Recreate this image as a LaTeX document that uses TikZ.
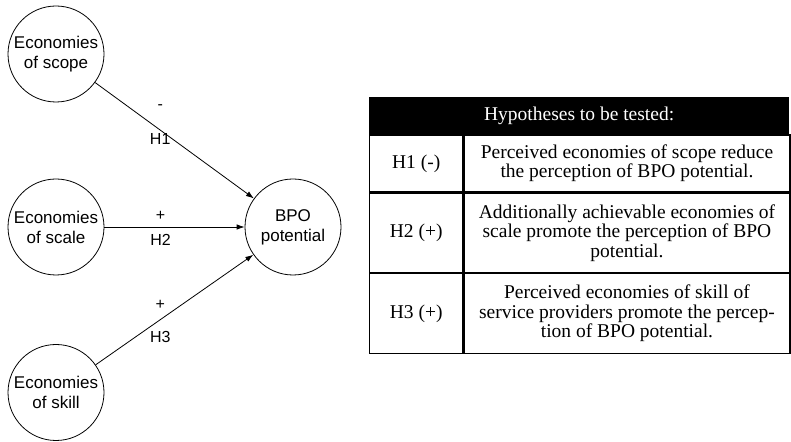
\documentclass[tikz,border=0pt]{standalone}
\usepackage{fontspec}
\setmainfont{Liberation Serif}
\setsansfont{Liberation Sans}
\usepackage{tikz}
\usetikzlibrary{arrows.meta, positioning}
\tikzset{
  construct/.style={circle, draw, line width=0.8pt, minimum size=96pt, inner sep=0pt, align=center, font=\sffamily\fontsize{17}{20}\selectfont},
  relation/.style={-{Latex[length=8pt, width=5.5pt]}, line width=0.8pt},
  hyplabel/.style={inner sep=0pt, font=\sffamily\fontsize{16}{18}\selectfont},
  cell/.style={rectangle, draw, line width=1.3pt, inner sep=0pt, align=center, anchor=north west, font=\fontsize{19.5}{19.5}\selectfont},
}

\begin{document}
\begin{tikzpicture}[x=1pt, y=1pt]
  \useasboundingbox (0,0) rectangle (791,441);

  % Constructs
  \node[construct] (scope) at (56, 387) {Economies\\of scope};
  \node[construct] (scale) at (56, 214) {Economies\\of scale};
  \node[construct] (skill) at (56, 48.5) {Economies\\of skill};
  \node[construct] (bpo) at (293, 214) {BPO\\potential};

  % Hypothesised effects
  \draw[relation] (scope) -- node[hyplabel, pos=0.41, yshift=23pt] (s1) {-}
                             node[hyplabel, pos=0.41, yshift=-9pt] (n1) {H1} (bpo);
  \draw[relation] (scale) -- node[hyplabel, pos=0.40, yshift=11pt] (s2) {+}
                             node[hyplabel, pos=0.40, yshift=-13pt] (n2) {H2} (bpo);
  \draw[relation] (skill) -- node[hyplabel, pos=0.41, yshift=15pt] (s3) {+}
                             node[hyplabel, pos=0.41, yshift=-17pt] (n3) {H3} (bpo);

  % Hypotheses table
  \node[cell, fill=black, text=white, minimum width=419pt, minimum height=36pt] (hdr) at (369, 344) {Hypotheses to be tested:};
  \node[cell, minimum width=93pt, minimum height=57pt] (id1) at (hdr.south west) {H1 (-)};
  \node[cell, minimum width=326pt, minimum height=57pt] (tx1) at (id1.north east) {Perceived economies of scope reduce\\the perception of BPO potential.};
  \node[cell, minimum width=93pt, minimum height=79pt] (id2) at (id1.south west) {H2 (+)};
  \node[cell, minimum width=326pt, minimum height=79pt] (tx2) at (id2.north east) {Additionally achievable economies of\\scale promote the perception of BPO\\potential.};
  \node[cell, minimum width=93pt, minimum height=80pt] (id3) at (id2.south west) {H3 (+)};
  \node[cell, minimum width=326pt, minimum height=80pt] (tx3) at (id3.north east) {Perceived economies of skill of\\service providers promote the percep-\\tion of BPO potential.};
\end{tikzpicture}
\end{document}
